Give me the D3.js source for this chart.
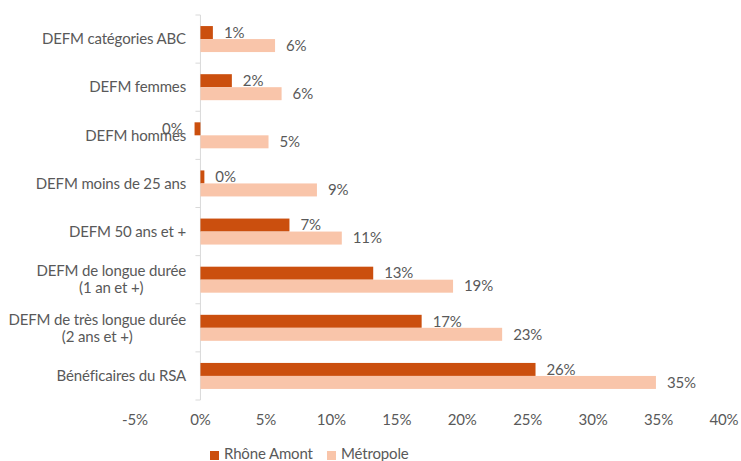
<!DOCTYPE html>
<html>
<head>
<meta charset="utf-8">
<script src="https://cdn.jsdelivr.net/npm/d3@7"></script>
<style>
  body { margin: 0; background: #fff; }
  text { font-family: Lato, "Open Sans", sans-serif; fill: #595959; font-size: 15px; letter-spacing: -0.15px; }
</style>
</head>
<body>
<div id="chart"></div>
<script>
// categories (top to bottom), lines split for wrapped labels
var categories = [
  ["DEFM catégories ABC"],
  ["DEFM femmes"],
  ["DEFM hommes"],
  ["DEFM moins de 25 ans"],
  ["DEFM 50 ans et +"],
  ["DEFM de longue durée", "(1 an et +)"],
  ["DEFM de très longue durée", "(2 ans et +)"],
  ["Bénéficaires du RSA"]
];
var seriesNames = ["Rhône Amont", "Métropole"];
var rhoneValues = [0.95, 2.4, -0.45, 0.3, 6.8, 13.2, 16.9, 25.6];
var metroValues = [5.7, 6.2, 5.2, 8.9, 10.8, 19.3, 23.05, 34.8];
var xTicks = [-5, 0, 5, 10, 15, 20, 25, 30, 35, 40];
var colors = ["#CB4F0E", "#F9C5AA"];

var W = 741, H = 461;
var svg = d3.select("#chart").append("svg").attr("width", W).attr("height", H);

var x = d3.scaleLinear().domain([-5, 40]).range([135, 724]);
var y = d3.scaleBand().domain(d3.range(categories.length)).range([15, 400]).paddingInner(0).paddingOuter(0);
var ySub = d3.scaleBand().domain([0, 1]).range([y.bandwidth() / 2 - 13, y.bandwidth() / 2 + 13]);

function pct(v) { var r = Math.round(v); return (r === 0 ? "0" : r) + "%"; }

// vertical axis line with ticks at band boundaries
svg.append("line").attr("x1", x(0)).attr("x2", x(0)).attr("y1", 15).attr("y2", 400)
  .style("stroke", "#d9d9d9").style("stroke-width", 1);
var bounds = d3.range(categories.length + 1).map(function(i) { return i < categories.length ? y(i) : 400; });
svg.selectAll(".ytick").data(bounds).enter().append("line")
  .attr("x1", x(0) - 5).attr("x2", x(0)).attr("y1", function(d) { return d; }).attr("y2", function(d) { return d; })
  .style("stroke", "#d9d9d9");

// bars
var data = [];
categories.forEach(function(c, i) {
  data.push({ cat: i, s: 0, v: rhoneValues[i] });
  data.push({ cat: i, s: 1, v: metroValues[i] });
});
svg.selectAll(".bar").data(data).enter().append("rect")
  .attr("x", function(d) { return x(Math.min(0, d.v)); })
  .attr("width", function(d) { return Math.abs(x(d.v) - x(0)); })
  .attr("y", function(d) { return y(d.cat) + ySub(d.s); })
  .attr("height", ySub.bandwidth())
  .style("fill", function(d) { return colors[d.s]; });

// value labels
svg.selectAll(".vlab").data(data).enter().append("text")
  .attr("x", function(d) { return d.v < 0 ? x(d.v) - 12 : x(d.v) + 11; })
  .attr("y", function(d) { return y(d.cat) + ySub(d.s) + ySub.bandwidth() / 2; })
  .attr("dy", "0.35em")
  .style("text-anchor", function(d) { return d.v < 0 ? "end" : "start"; })
  .text(function(d) { return pct(d.v); });

// category labels (block right-aligned, lines centred)
categories.forEach(function(lines, i) {
  var cy = y(i) + y.bandwidth() / 2;
  var g = svg.append("g");
  var texts = lines.map(function(t, k) {
    return g.append("text")
      .attr("y", cy + (k - (lines.length - 1) / 2) * 17)
      .attr("dy", "0.35em")
      .text(t);
  });
  var maxW = d3.max(texts, function(t) { return t.node().getComputedTextLength(); });
  texts.forEach(function(t) { t.attr("x", 186 - maxW / 2).style("text-anchor", "middle"); });
});

// x tick labels
svg.selectAll(".xlab").data(xTicks).enter().append("text")
  .attr("x", function(d) { return x(d); })
  .attr("y", 420).attr("dy", "0.35em")
  .style("text-anchor", "middle")
  .text(function(d) { return d + "%"; });

// legend
var legX = [210, 327];
seriesNames.forEach(function(n, i) {
  svg.append("rect").attr("x", legX[i]).attr("y", 451).attr("width", 9).attr("height", 9)
    .style("fill", colors[i]);
  svg.append("text").attr("x", legX[i] + 14).attr("y", 454).attr("dy", "0.35em")
    .text(n);
});
</script>
</body>
</html>
